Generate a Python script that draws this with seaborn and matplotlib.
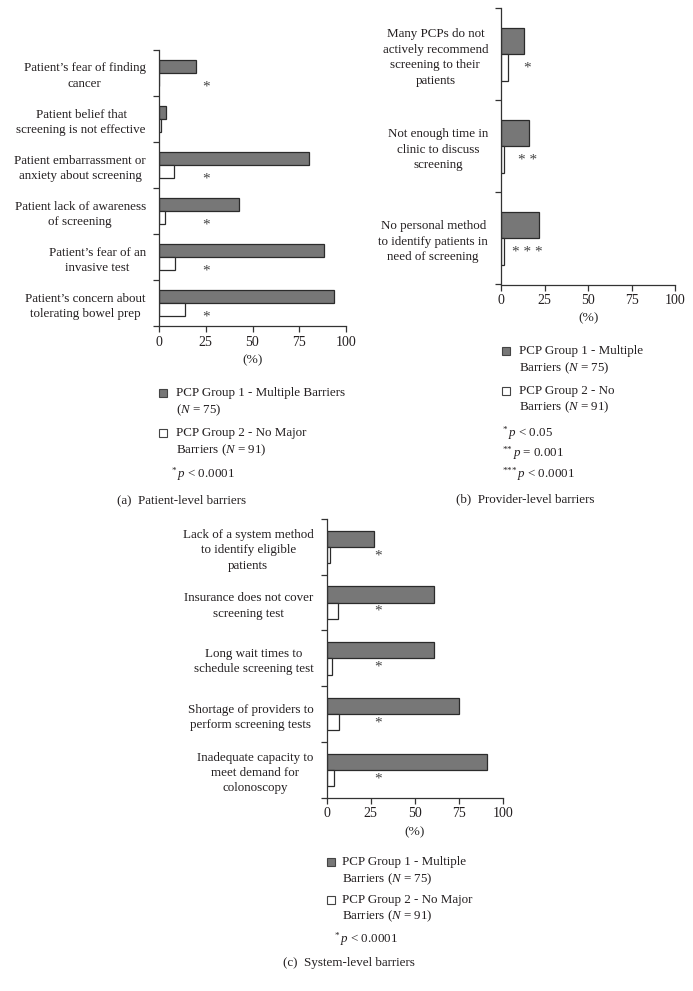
import numpy as np
import pandas as pd
import matplotlib
matplotlib.use("Agg")
import matplotlib.pyplot as plt
from matplotlib.patches import Rectangle
import seaborn as sns

# ── data ──────────────────────────────────────────────────────────────
GROUP1 = "PCP Group 1"
GROUP2 = "PCP Group 2"

patient_labels = [
    "Patient\u2019s fear of finding\ncancer",
    "Patient belief that\nscreening is not effective",
    "Patient embarrassment or\nanxiety about screening",
    "Patient lack of awareness\nof screening",
    "Patient\u2019s fear of an\ninvasive test",
    "Patient\u2019s concern about\ntolerating bowel prep",
]
patient_g1 = [20, 4, 80, 43, 88.5, 93.5]
patient_g2 = [0, 1, 8, 3, 8.7, 13.8]
patient_stars = ["*", "", "*", "*", "*", "*"]

provider_labels = [
    "Many PCPs do not\nactively recommend\nscreening to their\npatients",
    "Not enough time in\nclinic to discuss\nscreening",
    "No personal method\nto identify patients in\nneed of screening",
]
provider_g1 = [13.3, 16, 21.5]
provider_g2 = [3.8, 1.8, 1.8]
provider_stars = ["*", "* *", "* * *"]

system_labels = [
    "Lack of a system method\nto identify eligible\npatients",
    "Insurance does not cover\nscreening test",
    "Long wait times to\nschedule screening test",
    "Shortage of providers to\nperform screening tests",
    "Inadequate capacity to\nmeet demand for\ncolonoscopy",
]
system_g1 = [27, 61.2, 61.2, 75.2, 91]
system_g2 = [2, 6.2, 3, 7.1, 4.3]
system_stars = ["*", "*", "*", "*", "*"]

x_ticks = [0, 25, 50, 75, 100]

# ── style ─────────────────────────────────────────────────────────────
W, H = 693, 991
GRAY = "#777777"
EDGE = "#2b2b2b"
TXT = "#231f20"
FS = 9.4

sns.set_style("ticks")
plt.rcParams["font.family"] = ["Liberation Serif", "DejaVu Serif"]
plt.rcParams["mathtext.fontset"] = "custom"
plt.rcParams["mathtext.rm"] = "Liberation Serif"
plt.rcParams["mathtext.it"] = "Liberation Serif:italic"
plt.rcParams["text.color"] = TXT
plt.rcParams["axes.edgecolor"] = "#333333"
plt.rcParams["xtick.color"] = "#333333"
plt.rcParams["ytick.color"] = "#333333"
plt.rcParams["xtick.labelcolor"] = TXT
plt.rcParams["ytick.labelcolor"] = TXT

fig = plt.figure(figsize=(W / 100, H / 100), dpi=100)


def fx(x):
    return x / W


def fy(y):
    return 1 - y / H


def panel(left, right, top, bottom, labels, g1, g2, stars, star_x, star_off):
    ax = fig.add_axes([fx(left), fy(bottom), fx(right - left), (bottom - top) / H])
    n = len(labels)
    df = pd.DataFrame({
        "barrier": labels * 2,
        "group": [GROUP1] * n + [GROUP2] * n,
        "pct": g1 + g2,
    })
    sns.barplot(data=df, y="barrier", x="pct", hue="group", order=labels,
                palette=[GRAY, "white"], saturation=1, width=0.58,
                errorbar=None, edgecolor=EDGE, linewidth=0.9,
                legend=False, ax=ax)
    ax.set_xlim(0, 100)
    ax.set_ylim(n - 0.5, -0.5)
    ax.set_xticks(x_ticks)
    ax.set_xticklabels([str(t) for t in x_ticks], fontsize=FS + 0.6)
    ax.set_yticks(np.arange(n))
    ax.set_yticklabels(labels, fontsize=FS, linespacing=1.38,
                       multialignment="center")
    ax.set_yticks(np.arange(n + 1) - 0.5, minor=True)
    ax.tick_params(axis="y", which="major", length=0, pad=9.5)
    ax.tick_params(axis="y", which="minor", length=4, width=0.9, direction="out")
    ax.tick_params(axis="x", length=4, width=0.9, direction="out", pad=3)
    ax.set_ylabel("")
    ax.set_xlabel("(%)", fontsize=FS + 0.3, labelpad=4)
    sns.despine(ax=ax)
    for sp in ("left", "bottom"):
        ax.spines[sp].set_linewidth(0.9)
    for i, s in enumerate(stars):
        if s:
            ax.text(star_x, i + star_off, s, ha="center", va="center",
                    fontsize=11, color="#444444")
    return ax


panel(159, 346, 50, 326, patient_labels, patient_g1, patient_g2,
      patient_stars, 25, 0.3)
panel(501.3, 675.3, 8.3, 284.5, provider_labels, provider_g1, provider_g2,
      provider_stars, 15, 0.15)
panel(326.7, 502.7, 519, 797.7, system_labels, system_g1, system_g2,
      system_stars, 29, 0.16)


# ── legends, p-value notes, captions ──────────────────────────────────
def square(x, y, color):
    fig.patches.append(Rectangle((fx(x), fy(y + 4)), fx(8), 8 / H,
                                 facecolor=color, edgecolor="#444444",
                                 linewidth=0.8, transform=fig.transFigure,
                                 figure=fig))


def line(x, y, s, **kw):
    fig.text(fx(x), fy(y), s, ha="left", va="center", fontsize=FS, **kw)


# (a)
square(159, 393, GRAY)
line(176, 393, "PCP Group 1 - Multiple Barriers")
line(176, 410, r"($N$ = 75)")
square(159, 433, "white")
line(176, 433, "PCP Group 2 - No Major")
line(176, 450.5, r"Barriers ($N$ = 91)")
line(171, 474, r"$^{{*}}\,p$ < 0.0001")
line(117, 500.5, "(a)  Patient-level barriers")

# (b)
square(501.7, 350.7, GRAY)
line(519, 350.7, "PCP Group 1 - Multiple")
line(519, 368, r"Barriers ($N$ = 75)")
square(501.7, 391, "white")
line(519, 391, "PCP Group 2 - No")
line(519, 407.7, r"Barriers ($N$ = 91)")
line(502, 433, r"$^{{*}}\,p$ < 0.05")
line(502, 453, r"$^{{*}{*}}\,p$ = 0.001")
line(502, 474, r"$^{{*}{*}{*}}\,p$ < 0.0001")
line(456, 499.5, "(b)  Provider-level barriers")

# (c)
square(326.7, 861.7, GRAY)
line(341.7, 861.7, "PCP Group 1 - Multiple")
line(341.7, 879, r"Barriers ($N$ = 75)")
square(326.7, 900, "white")
line(341.7, 900, "PCP Group 2 - No Major")
line(341.7, 916.7, r"Barriers ($N$ = 91)")
line(334, 939, r"$^{{*}}\,p$ < 0.0001")
line(283, 963, "(c)  System-level barriers")

fig.savefig("out.png", dpi=100)
